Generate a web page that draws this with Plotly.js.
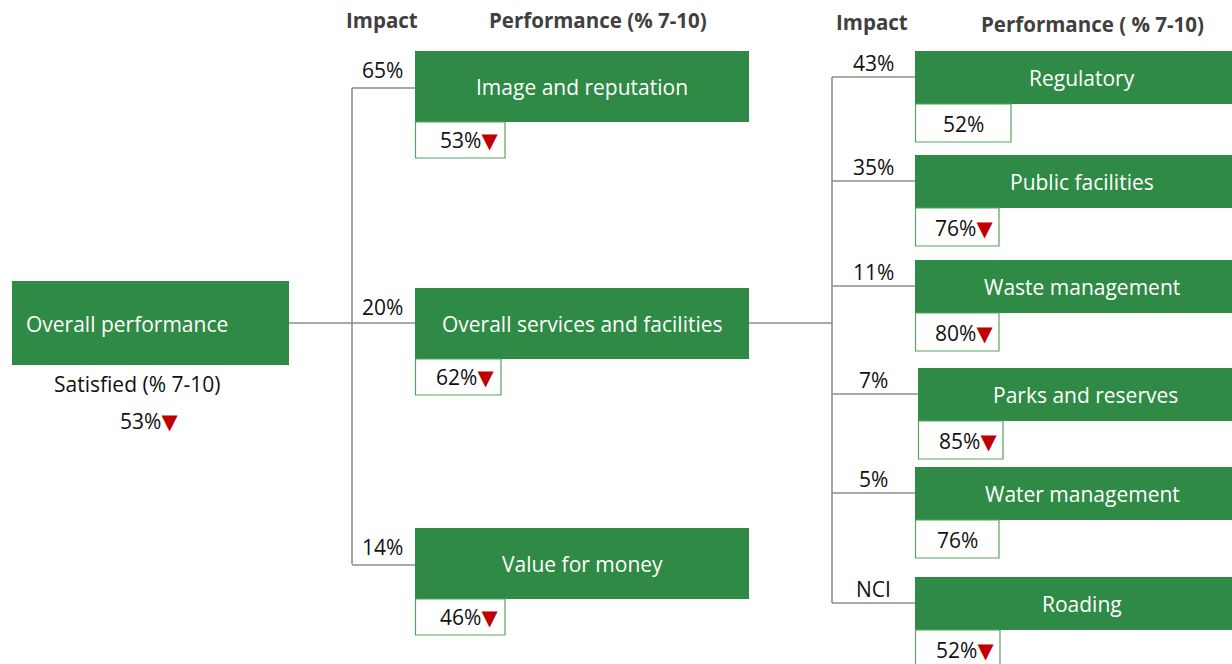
<!DOCTYPE html>
<html>
<head>
<meta charset="utf-8">
<script src="https://cdn.plot.ly/plotly-3.0.1.min.js"></script>
<style>html,body{margin:0;padding:0;background:#fff;}#chart{width:1232px;height:664px;}</style>
</head>
<body>
<div id="chart"></div>
<script>
// ---- data ----
const rootName = "Overall performance";
const rootLabel = "Satisfied (% 7-10)";
const rootPerf = 53;
const rootDown = true;

const level1Names = ["Image and reputation", "Overall services and facilities", "Value for money"];
const level1Impact = ["65%", "20%", "14%"];
const level1Perf = [53, 62, 46];
const level1Down = [true, true, true];

const level2Names = ["Regulatory", "Public facilities", "Waste management", "Parks and reserves", "Water management", "Roading"];
const level2Impact = ["43%", "35%", "11%", "7%", "5%", "NCI"];
const level2Perf = [52, 76, 80, 85, 76, 52];
const level2Down = [false, true, true, true, false, true];

const headerImpact = "Impact";
const headerPerf1 = "Performance (% 7-10)";
const headerPerf2 = "Performance ( % 7-10)";

// ---- styles ----
const GREEN = "#2e8a44";
const BORDER = "#57a35f";
const LINE = "#8c8c8c";
const RED = "#c00000";
const FONT = "'Open Sans', sans-serif";
const FS = 21;
const HFS = 20.5;

const shapes = [];
const annotations = [];

function rect(x0, y0, x1, y1, fill, lineColor, lw) {
  shapes.push({type: "rect", xref: "x", yref: "y", x0, y0, x1, y1,
    fillcolor: fill, line: {color: lineColor, width: lw}, layer: "above"});
}
function line(x0, y0, x1, y1) {
  shapes.push({type: "line", xref: "x", yref: "y", x0, y0, x1, y1,
    line: {color: LINE, width: 1.6}, layer: "below"});
}
function text(x, y, t, opts) {
  annotations.push(Object.assign({xref: "x", yref: "y", x, y, text: t, showarrow: false,
    font: {family: FONT, size: FS, color: "#111"}, xanchor: "center", yanchor: "middle"}, opts || {}));
}
function perfText(v, down) {
  return v + "%" + (down ? "<span style='color:" + RED + ";font-family:DejaVu Sans;font-size:21px'>▼</span>" : "");
}

// headers
const hfont = {family: FONT, size: HFS, color: "#404040"};
text(382, 20, "<b>" + headerImpact + "</b>", {font: hfont});
text(598, 20, "<b>" + headerPerf1 + "</b>", {font: hfont});
text(872, 22, "<b>" + headerImpact + "</b>", {font: hfont});
text(1092, 24, "<b>" + headerPerf2 + "</b>", {font: hfont});

// root
rect(12, 281, 289, 365, GREEN, GREEN, 0);
text(24, 324, rootName, {xanchor: "left", font: {family: FONT, size: FS, color: "#fff"}});
text(137, 384, rootLabel);
text(149, 421, perfText(rootPerf, rootDown));

// level 1
const l1Top = [51, 288, 528];
const l1PerfW = [90, 86, 90];
line(289, 323, 352, 323);
line(352, l1Top[0] + 37, 352, l1Top[2] + 36);
level1Names.forEach((n, i) => {
  const top = l1Top[i];
  const cy = i === 1 ? 323 : top + 37;
  line(352, cy, 415, cy);
  rect(415, top, 749, top + 71, GREEN, GREEN, 0);
  text(582, top + 36, n, {font: {family: FONT, size: FS, color: "#fff"}});
  rect(415.5, top + 71, 415 + l1PerfW[i], top + 107, "#fff", BORDER, 1.2);
  text(415 + l1PerfW[i] - 5, top + 89, perfText(level1Perf[i], level1Down[i]), {xanchor: "right"});
  text(382, top + 19, level1Impact[i]);
});

// level 2
const l2Top = [51, 155, 260, 368, 467, 577];
const l2X = [915, 915, 915, 918, 915, 915];
const l2PerfW = [96, 84, 84, 85, 84, 85];
line(749, 323, 832, 323);
line(832, l2Top[0] + 26, 832, l2Top[5] + 26);
level2Names.forEach((n, i) => {
  const top = l2Top[i];
  const x0 = l2X[i];
  line(832, top + 26, x0, top + 26);
  rect(x0, top, 1240, top + 53, GREEN, GREEN, 0);
  text(x0 + 167, top + 27, n, {font: {family: FONT, size: FS, color: "#fff"}});
  rect(x0 + 0.5, top + 53, x0 + l2PerfW[i], top + 91, "#fff", BORDER, 1.2);
  if (level2Down[i]) {
    text(x0 + l2PerfW[i] - 4, top + 73, perfText(level2Perf[i], true), {xanchor: "right"});
  } else {
    text(x0 + l2PerfW[i] / 2, top + 73, perfText(level2Perf[i], false));
  }
  text(873, top + 12, level2Impact[i]);
});

const layout = {
  width: 1232, height: 664,
  margin: {l: 0, r: 0, t: 0, b: 0},
  paper_bgcolor: "#fff", plot_bgcolor: "#fff",
  xaxis: {range: [0, 1232], visible: false, fixedrange: true},
  yaxis: {range: [664, 0], visible: false, fixedrange: true},
  showlegend: false,
  shapes, annotations
};
Plotly.newPlot("chart", [{x: [], y: [], type: "scatter", mode: "markers"}], layout, {staticPlot: true, displayModeBar: false});
</script>
</body>
</html>
